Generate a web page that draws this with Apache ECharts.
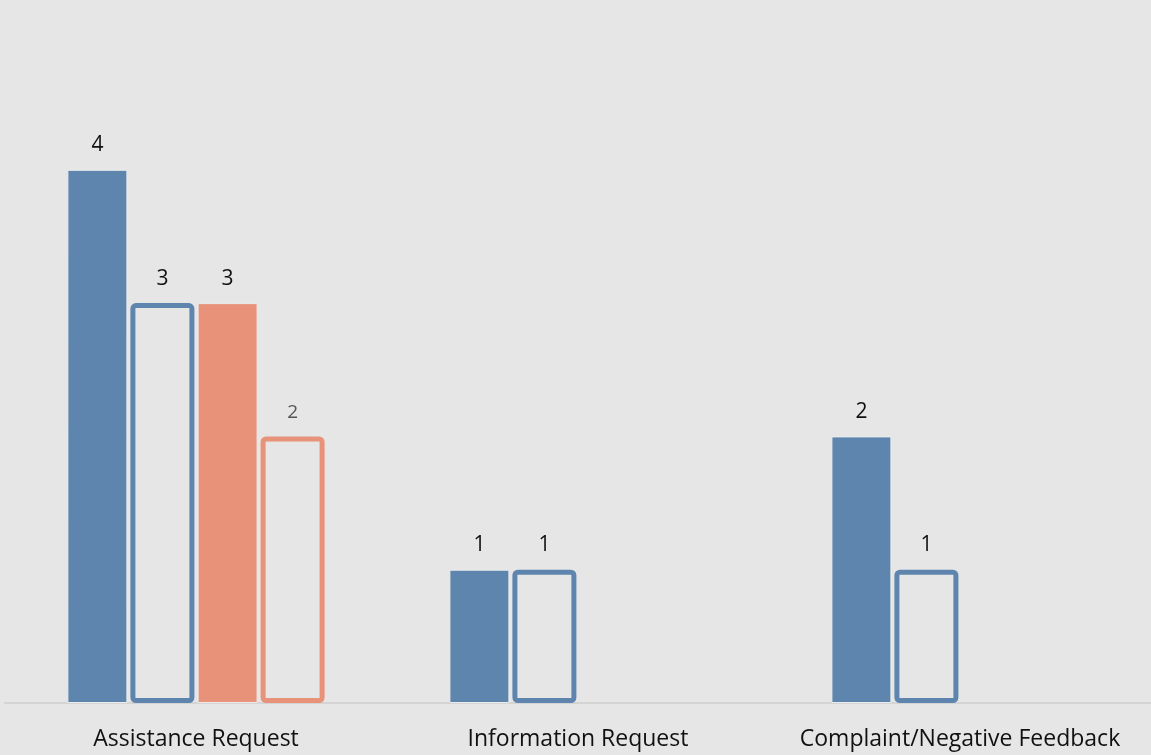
<!DOCTYPE html>
<html>
<head>
<meta charset="utf-8">
<script src="https://cdn.jsdelivr.net/npm/echarts@6/dist/echarts.min.js"></script>
<style>
html,body{margin:0;padding:0;background:#e6e6e6;}
#chart{width:1151px;height:755px;}
</style>
</head>
<body>
<div id="chart"></div>
<script>
const categories = ['Assistance Request', 'Information Request', 'Complaint/Negative Feedback'];
const seriesA = [4, 1, 2];       // solid blue
const seriesB = [3, 1, 1];       // outlined blue
const seriesC = [3, null, null]; // solid salmon
const seriesD = [2, null, null]; // outlined salmon

const BLUE = '#5d85ad';
const SALMON = '#e8927a';
const BG = '#e6e6e6';
const FONT = 'Open Sans';

const chart = echarts.init(document.getElementById('chart'));
function lbl(color, size, dist) {
  return {show: true, position: 'top', distance: dist, color: color, fontSize: size, fontFamily: FONT};
}
chart.setOption({
  backgroundColor: BG,
  animation: false,
  grid: {left: 5, right: 0, top: 36.5, bottom: 52, containLabel: false},
  xAxis: {
    type: 'category', data: categories,
    axisLine: {show: true, lineStyle: {color: '#d4d4d4', width: 2}},
    axisTick: {show: false},
    axisLabel: {color: '#111', fontSize: 23, fontFamily: FONT, margin: 25, interval: 0, hideOverlap: false}
  },
  yAxis: {type: 'value', min: 0, max: 5, show: false, splitLine: {show: false}},
  series: [
    {type: 'bar', data: seriesA, barWidth: 60, barGap: '5%',
     itemStyle: {color: BLUE, borderColor: '#ececec', borderWidth: 1}, label: lbl('#111', 21, 14)},
    {type: 'bar', data: seriesB, barWidth: 64,
     itemStyle: {color: BG, borderColor: BLUE, borderWidth: 5, borderRadius: 3}, label: lbl('#111', 21, 14)},
    {type: 'bar', data: seriesC, barWidth: 60,
     itemStyle: {color: SALMON, borderColor: '#ececec', borderWidth: 1}, label: lbl('#111', 21, 14)},
    {type: 'bar', data: seriesD, barWidth: 64,
     itemStyle: {color: BG, borderColor: SALMON, borderWidth: 5, borderRadius: 3}, label: lbl('#555', 19, 14)}
  ]
});
</script>
</body>
</html>
